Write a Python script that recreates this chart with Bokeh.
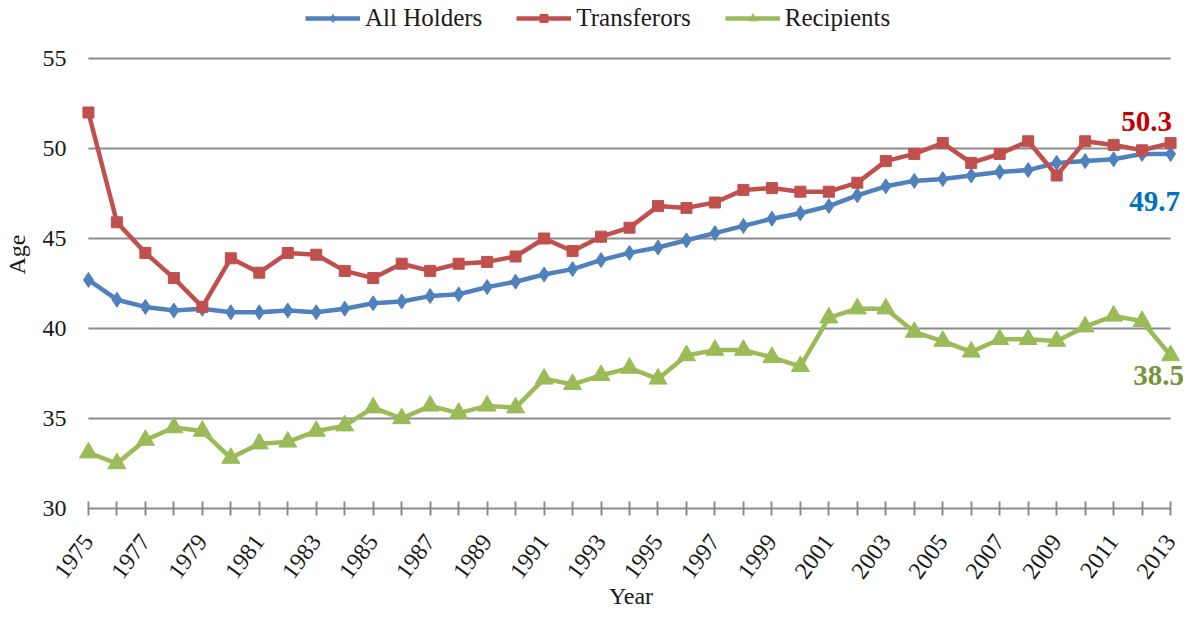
from bokeh.plotting import figure
from bokeh.models import Range1d, FixedTicker, Legend, LegendItem, Label
from bokeh.embed import file_html
from bokeh.resources import INLINE

# ---- data ----
years = list(range(1975, 2014))
all_holders = [42.7, 41.6, 41.2, 41.0, 41.1, 40.9, 40.9, 41.0, 40.9, 41.1,
               41.4, 41.5, 41.8, 41.9, 42.3, 42.6, 43.0, 43.3, 43.8, 44.2,
               44.5, 44.9, 45.3, 45.7, 46.1, 46.4, 46.8, 47.4, 47.9, 48.2,
               48.3, 48.5, 48.7, 48.8, 49.2, 49.3, 49.4, 49.7, 49.7]
transferors = [52.0, 45.9, 44.2, 42.8, 41.2, 43.9, 43.1, 44.2, 44.1, 43.2,
               42.8, 43.6, 43.2, 43.6, 43.7, 44.0, 45.0, 44.3, 45.1, 45.6,
               46.8, 46.7, 47.0, 47.7, 47.8, 47.6, 47.6, 48.1, 49.3, 49.7,
               50.3, 49.2, 49.7, 50.4, 48.5, 50.4, 50.2, 49.9, 50.3]
recipients = [33.1, 32.5, 33.8, 34.5, 34.3, 32.8, 33.6, 33.7, 34.3, 34.6,
              35.6, 35.0, 35.7, 35.3, 35.7, 35.6, 37.2, 36.9, 37.4, 37.8,
              37.2, 38.5, 38.8, 38.8, 38.4, 37.9, 40.6, 41.1, 41.1, 39.8,
              39.3, 38.7, 39.4, 39.4, 39.3, 40.1, 40.7, 40.4, 38.5]
y_ticks = [30, 35, 40, 45, 50, 55]
series_names = ["All Holders", "Transferors", "Recipients"]

FONT = "Liberation Serif"
GRID = "#8C8C8C"
TXT = "#1a1a1a"
BLUE, RED, GREEN = "#4F81BD", "#C0504D", "#9BBB59"

# frame spans the whole canvas top/right so legend and end labels are not clipped
p = figure(width=1183, height=611, output_backend="svg", toolbar_location=None,
           x_range=Range1d(years[0] - 0.349, years[-1] + 0.4536),
           y_range=Range1d(y_ticks[0], y_ticks[0] + 508 / 18.0),
           min_border_left=70, min_border_right=0, min_border_top=0,
           min_border_bottom=103)
p.outline_line_color = None
p.xgrid.visible = False
p.ygrid.visible = False
p.background_fill_color = "white"
p.border_fill_color = "white"

# horizontal gridlines spanning the data years only
grid_y = [t for t in y_ticks if t != y_ticks[0]]
p.segment(x0=[years[0]] * len(grid_y), x1=[years[-1]] * len(grid_y),
          y0=grid_y, y1=grid_y, line_color=GRID, line_width=2)

# series
r1l = p.line(years, all_holders, line_color=BLUE, line_width=4.5)
r1m = p.scatter(years, all_holders, marker="diamond", size=15, fill_color=BLUE, line_color=BLUE)
r2l = p.line(years, transferors, line_color=RED, line_width=4.5)
r2m = p.scatter(years, transferors, marker="square", size=11, fill_color=RED, line_color=RED)
r3l = p.line(years, recipients, line_color=GREEN, line_width=4.5)
r3m = p.scatter(years, recipients, marker="triangle", size=18, fill_color=GREEN, line_color=GREEN)

# x axis
xa = p.xaxis[0]
xa.bounds = (years[0], years[-1])
xa.ticker = FixedTicker(ticks=years[::2], minor_ticks=years[1::2])
xa.axis_line_color = GRID
xa.axis_line_width = 2
xa.major_tick_line_color = GRID
xa.major_tick_line_width = 2
xa.major_tick_in = 7
xa.major_tick_out = 7
xa.minor_tick_line_color = GRID
xa.minor_tick_line_width = 2
xa.minor_tick_in = 7
xa.minor_tick_out = 7
xa.major_label_orientation = 0.93
xa.major_label_text_font = FONT
xa.major_label_text_font_size = "24px"
xa.major_label_text_color = TXT
xa.major_label_standoff = 22
xa.axis_label = "Year"
xa.axis_label_text_font = FONT
xa.axis_label_text_font_size = "24px"
xa.axis_label_text_font_style = "normal"
xa.axis_label_text_color = TXT
xa.axis_label_standoff = -5

# y axis
ya = p.yaxis[0]
ya.bounds = (y_ticks[0], y_ticks[-1])
ya.ticker = FixedTicker(ticks=y_ticks)
ya.axis_line_color = None
ya.major_tick_line_color = None
ya.minor_tick_line_color = None
ya.major_tick_out = 0
ya.major_tick_in = 0
ya.major_label_standoff = 12
ya.major_label_text_font = FONT
ya.major_label_text_font_size = "24px"
ya.major_label_text_color = TXT
ya.axis_label = "Age"
ya.axis_label_text_font = FONT
ya.axis_label_text_font_size = "24px"
ya.axis_label_text_font_style = "normal"
ya.axis_label_text_color = TXT
ya.axis_label_standoff = 10

legend = Legend(items=[
    LegendItem(label=series_names[0], renderers=[r1l, r1m]),
    LegendItem(label=series_names[1], renderers=[r2l, r2m]),
    LegendItem(label=series_names[2], renderers=[r3l, r3m]),
], orientation="horizontal", location=(227, 476))
legend.label_text_font = FONT
legend.label_text_font_size = "25px"
legend.label_text_color = TXT
legend.glyph_width = 55
legend.glyph_height = 20
legend.label_standoff = 5
legend.spacing = 34
legend.padding = 0
legend.margin = 0
legend.border_line_color = None
legend.background_fill_alpha = 0
p.add_layout(legend)

# end-value labels
p.add_layout(Label(x=years[-1], y=transferors[-1], text=f"{transferors[-1]:.1f}",
                   x_offset=-24, y_offset=22, text_align="center", text_baseline="middle",
                   text_font=FONT, text_font_style="bold", text_font_size="29px",
                   text_color="#C00000"))
p.add_layout(Label(x=years[-1], y=all_holders[-1], text=f"{all_holders[-1]:.1f}",
                   x_offset=-16, y_offset=-48, text_align="center", text_baseline="middle",
                   text_font=FONT, text_font_style="bold", text_font_size="29px",
                   text_color="#0070C0"))
p.add_layout(Label(x=years[-1], y=recipients[-1], text=f"{recipients[-1]:.1f}",
                   x_offset=-12, y_offset=-20, text_align="center", text_baseline="middle",
                   text_font=FONT, text_font_style="bold", text_font_size="29px",
                   text_color="#77933C"))

open("out.html", "w").write(file_html(p, INLINE))
